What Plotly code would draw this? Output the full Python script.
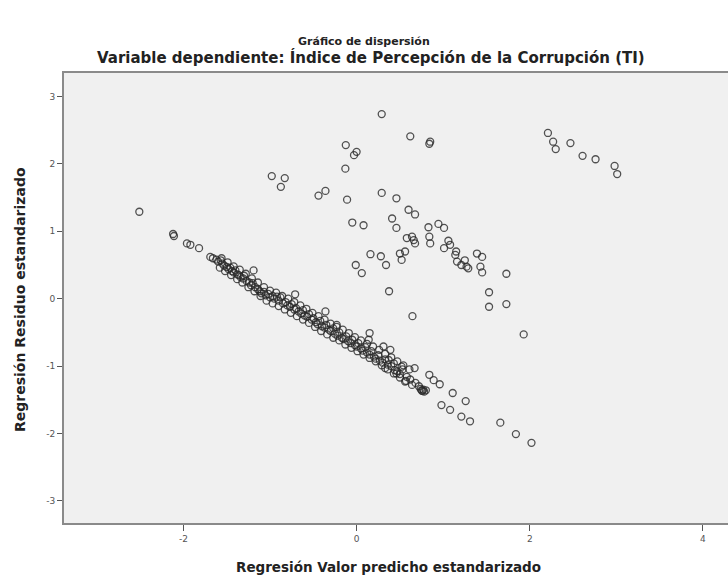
import plotly.graph_objects as go

# --- data ---
pred_left = [-2.51, -2.12, -2.11, -1.96, -1.92, -1.82, -1.69]
resid_left = [1.29, 0.96, 0.93, 0.82, 0.80, 0.75, 0.62]

pred_band = [-1.66, -1.62, -1.60, -1.57, -1.55, -1.53, -1.50, -1.48, -1.46, -1.44,
             -1.42, -1.40, -1.38, -1.36, -1.34, -1.31, -1.30, -1.27, -1.24, -1.22,
             -1.20, -1.17, -1.14, -1.12, -1.10, -1.07, -1.05, -1.02, -1.00, -0.97,
             -0.95, -0.92, -0.90, -0.88, -0.85, -0.82, -0.80, -0.77, -0.75, -0.72,
             -0.70, -0.67, -0.64, -0.62, -0.60, -0.57, -0.55, -0.52, -0.50, -0.47,
             -0.45, -0.42, -0.40, -0.37, -0.35, -0.32, -0.30, -0.27, -0.25, -0.22,
             -0.20, -0.17, -0.15, -0.12, -0.10, -0.07, -0.05, -0.02, 0.00, 0.02,
             0.05, 0.07, 0.10, 0.12, 0.15, 0.17, 0.20, 0.22, 0.25, 0.27,
             0.30, 0.33, 0.36, 0.40, 0.43, 0.47, 0.50, 0.53, 0.58, 0.62,
             0.68, 0.72, 0.76, 0.78, 0.80, 0.74]
resid_band = [0.60, 0.58, 0.55, 0.57, 0.52, 0.49, 0.47, 0.44, 0.46, 0.41,
              0.39, 0.42, 0.36, 0.35, 0.32, 0.30, 0.34, 0.26, 0.24, 0.20,
              0.23, 0.17, 0.14, 0.11, 0.08, 0.10, 0.05, 0.07, 0.02, 0.04,
              0.00, 0.03, -0.03, 0.02, -0.07, -0.05, -0.10, -0.12, -0.08, -0.16,
              -0.14, -0.19, -0.22, -0.17, -0.25, -0.27, -0.23, -0.31, -0.29, -0.35,
              -0.38, -0.33, -0.41, -0.43, -0.39, -0.46, -0.48, -0.44, -0.52, -0.55,
              -0.50, -0.58, -0.60, -0.56, -0.63, -0.66, -0.61, -0.69, -0.71, -0.66,
              -0.74, -0.77, -0.72, -0.80, -0.83, -0.78, -0.86, -0.89, -0.84, -0.92,
              -0.95, -0.90, -0.98, -1.00, -0.96, -1.08, -1.12, -1.05, -1.16, -1.20,
              -1.25, -1.30, -1.37, -1.38, -1.36, -1.34]

pred_band_low = [-1.58, -1.52, -1.45, -1.38, -1.32, -1.25, -1.18, -1.11, -1.04, -0.97,
                 -0.90, -0.83, -0.76, -0.69, -0.62, -0.55, -0.48, -0.41, -0.34, -0.27,
                 -0.20, -0.13, -0.06, 0.01, 0.08, 0.15, 0.22, 0.29, 0.36, 0.43,
                 0.50, 0.57, 0.64]
resid_band_low = [0.46, 0.41, 0.35, 0.29, 0.24, 0.17, 0.11, 0.04, -0.03, -0.07,
                  -0.11, -0.16, -0.21, -0.26, -0.31, -0.36, -0.42, -0.48, -0.53, -0.58,
                  -0.62, -0.68, -0.73, -0.78, -0.83, -0.88, -0.93, -0.99, -1.05, -1.11,
                  -1.17, -1.22, -1.28]

pred_band_high = [-1.56, -1.49, -1.42, -1.35, -1.28, -1.21, -1.14, -1.07, -1.00, -0.93,
                  -0.86, -0.79, -0.72, -0.65, -0.58, -0.51, -0.44, -0.37, -0.30, -0.23,
                  -0.16, -0.09, -0.02, 0.05, 0.12, 0.19, 0.26, 0.33, 0.40, 0.47,
                  0.54, 0.61]
resid_band_high = [0.60, 0.54, 0.48, 0.43, 0.37, 0.30, 0.24, 0.17, 0.12, 0.09,
                   0.04, 0.00, -0.05, -0.10, -0.15, -0.21, -0.26, -0.31, -0.37, -0.42,
                   -0.46, -0.51, -0.57, -0.62, -0.67, -0.71, -0.76, -0.82, -0.87, -0.93,
                   -0.99, -1.05]

pred_edge = [-1.19, -0.71, -0.36, -0.23, 0.15, 0.14]
resid_edge = [0.42, 0.065, -0.19, -0.39, -0.51, -0.61]

pred_lower = [0.31, 0.39, 0.37, 0.33, 0.44, 0.46, 0.52, 0.56, 0.67, 0.75,
              0.77, 0.84, 0.89, 0.96, 1.11, 1.26, 0.98, 1.08, 1.21, 1.31,
              1.66, 1.84, 2.02]
resid_lower = [-0.71, -0.76, -0.91, -1.03, -1.06, -1.11, -1.01, -1.23, -1.03, -1.36,
               -1.35, -1.13, -1.21, -1.27, -1.40, -1.52, -1.58, -1.65, -1.75, -1.82,
               -1.84, -2.01, -2.14]

pred_upper = [0.29, -0.125, 0.00, -0.03, -0.13, -0.98, -0.83, -0.875, -0.36, -0.44,
              -0.11, 0.29, 0.46, -0.05, 0.08, 0.41, 0.46, 0.16, 0.28, 0.34,
              -0.01, 0.06, 0.375, 0.62, 0.85, 0.84, 0.60, 0.675, 0.83, 0.945,
              1.01, 0.58, 0.64, 0.66, 0.675, 0.84, 0.85, 1.06, 1.08, 1.01,
              1.15, 1.14, 1.16, 0.50, 0.56, 0.52, 1.25, 1.27, 1.29, 1.39,
              1.45, 1.43, 1.45, 1.21, 1.73, 1.53, 1.53, 1.73, 0.645, 1.93]
resid_upper = [2.74, 2.28, 2.18, 2.13, 1.93, 1.82, 1.79, 1.66, 1.60, 1.53,
               1.47, 1.57, 1.49, 1.13, 1.09, 1.19, 1.05, 0.66, 0.63, 0.50,
               0.50, 0.38, 0.11, 2.41, 2.33, 2.30, 1.32, 1.25, 1.06, 1.11,
               1.05, 0.90, 0.92, 0.87, 0.82, 0.92, 0.82, 0.86, 0.80, 0.75,
               0.70, 0.65, 0.55, 0.67, 0.70, 0.575, 0.57, 0.475, 0.45, 0.67,
               0.62, 0.475, 0.39, 0.50, 0.37, 0.095, -0.12, -0.08, -0.26, -0.53]

pred_right = [2.21, 2.27, 2.30, 2.47, 2.61, 2.76, 2.98, 3.01]
resid_right = [2.46, 2.33, 2.22, 2.31, 2.12, 2.07, 1.97, 1.85]

x_ticks = [-2, 0, 2, 4]
y_ticks = [-3, -2, -1, 0, 1, 2, 3]

title_main = "Gráfico de dispersión"
title_sub = "Variable dependiente: Índice de Percepción de la Corrupción (TI)"
x_title = "Regresión Valor predicho estandarizado"
y_title = "Regresión Residuo estandarizado"

# --- figure ---
xs = (pred_left + pred_band + pred_band_low + pred_band_high + pred_edge
      + pred_lower + pred_upper + pred_right)
ys = (resid_left + resid_band + resid_band_low + resid_band_high + resid_edge
      + resid_lower + resid_upper + resid_right)

W, H = 728, 578
L, R, T, B = 64, 0, 73, 55
pw, ph = W - L - R, H - T - B

def px(x):
    return (x - L) / pw

def py(y):
    return (H - B - y) / ph

fig = go.Figure()
fig.add_trace(go.Scatter(
    x=xs, y=ys, mode="markers",
    marker=dict(symbol="circle-open", size=7,
                color="rgba(40,40,40,0.8)",
                line=dict(width=1.3, color="rgba(40,40,40,0.8)")),
    showlegend=False, hoverinfo="x+y"))

font_fam = "DejaVu Sans, Verdana, sans-serif"

fig.update_layout(
    width=W, height=H,
    margin=dict(l=L, r=R, t=T, b=B, pad=0),
    paper_bgcolor="white",
    plot_bgcolor="#f0f0f0",
    font=dict(family=font_fam, color="#222"),
    xaxis=dict(range=[-3.38, 4.29], tickvals=x_ticks,
               ticktext=[str(v) for v in x_ticks],
               showgrid=False, zeroline=False,
               showline=True, linecolor="#8a8a8a", linewidth=2, mirror=True,
               ticks="outside", ticklen=6, tickcolor="#555", tickwidth=1,
               tickfont=dict(size=9, color="#555")),
    yaxis=dict(range=[-3.33, 3.35], tickvals=y_ticks,
               ticktext=[str(v) for v in y_ticks],
               showgrid=False, zeroline=False,
               showline=True, linecolor="#8a8a8a", linewidth=2, mirror=False,
               ticks="outside", ticklen=5, tickcolor="#555", tickwidth=1,
               tickfont=dict(size=9, color="#555")),
)

fig.add_annotation(text="<b>" + title_main + "</b>", xref="paper", yref="paper",
                   x=px(364), y=py(42), xanchor="center", yanchor="middle",
                   showarrow=False,
                   font=dict(size=11, color="#222", family=font_fam))
fig.add_annotation(text="<b>" + title_sub + "</b>", xref="paper", yref="paper",
                   x=px(371), y=py(58), xanchor="center", yanchor="middle",
                   showarrow=False,
                   font=dict(size=15, color="#222", family=font_fam))
fig.add_annotation(text="<b>" + x_title + "</b>", xref="paper", yref="paper",
                   x=px(388), y=py(567), xanchor="center", yanchor="middle",
                   showarrow=False,
                   font=dict(size=13.5, color="#222", family=font_fam))
fig.add_annotation(text="<b>" + y_title + "</b>", xref="paper", yref="paper",
                   x=px(20), y=py(300), xanchor="center", yanchor="middle",
                   showarrow=False, textangle=-90,
                   font=dict(size=14, color="#222", family=font_fam))

fig.write_html("out.html")
